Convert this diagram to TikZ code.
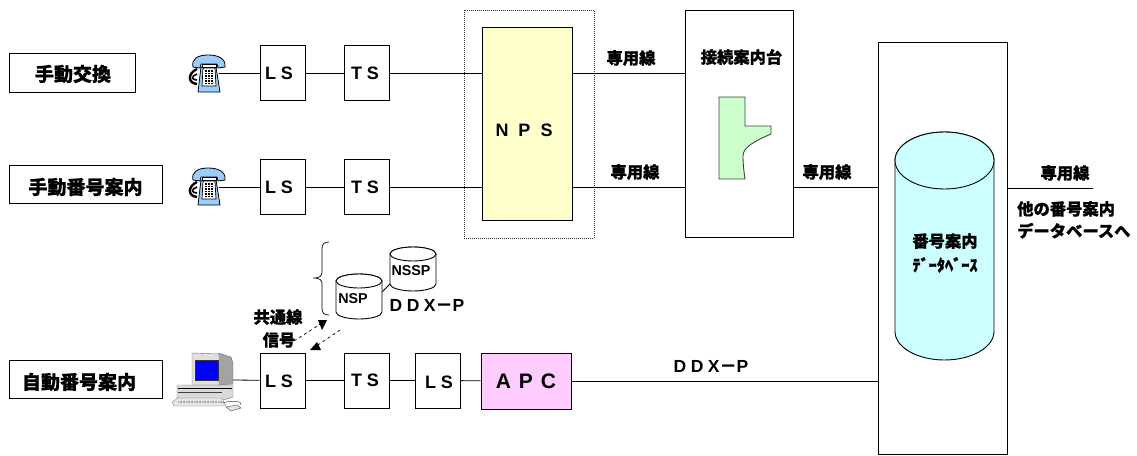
\documentclass[tikz,border=0pt]{standalone}
\usepackage{fontspec}
\setmainfont{Liberation Sans}
\newfontfamily\cjk{Noto Sans CJK JP}[BoldFeatures={FakeBold=0.8}]
\newcommand{\cylshape}[6]{% x y w h ry fill
  \path[draw=black,line width=0.9pt,fill=#6]
    (#1,#2+#5) -- (#1,#2+#4-#5) arc[start angle=180,end angle=0,x radius=#3/2,y radius=#5]
    -- (#1+#3,#2+#5) arc[start angle=0,end angle=-180,x radius=#3/2,y radius=#5] -- cycle;
  \path[draw=black,line width=0.9pt,fill=#6]
    (#1+#3/2,#2+#5) ellipse[x radius=#3/2,y radius=#5];
}
\newcommand{\fwminus}{{\cjk\bfseries\fontsize{17}{18}\selectfont －}}
\tikzset{
  ln/.style={draw=black,line width=0.8pt},
  labelbox/.style={draw=black,line width=0.9pt,fill=white,inner sep=0pt},
  labeltext/.style={font=\cjk\bfseries\fontsize{19}{21}\selectfont,inner sep=0pt},
  swbox/.style={draw=black,line width=0.9pt,fill=white,minimum width=45pt,minimum height=55pt,inner sep=0pt},
  swtext/.style={inner sep=0pt,font=\bfseries\fontsize{18}{20}\selectfont},
  cj/.style={font=\cjk\bfseries\fontsize{16.3}{24}\selectfont,inner sep=0pt,align=left},
  lat/.style={font=\bfseries\fontsize{17.5}{20}\selectfont,inner sep=0pt},
  small/.style={font=\bfseries\fontsize{14.3}{16}\selectfont,inner sep=0pt},
  anchorpt/.style={inner sep=0pt,minimum size=0pt},
  phoneicon/.pic={
    \path[draw=black,line width=2.4pt] (9,14) .. controls (0,18) and (-1,28) .. (9,29);
    \path[draw=black,line width=1.6pt] (9,19) .. controls (3,21) and (3,25) .. (9,25);
    \path[draw=black,line width=0.8pt,fill=phoneblue] (13,12) -- (28,12) -- (32,37) -- (10,37) -- cycle;
    \path[draw=black,line width=0.8pt,fill=phoneblue] (5,12) .. controls (3,4) and (10,0) .. (20,0) .. controls (31,0) and (38,4) .. (37,12) -- (30,13) -- (29,9) -- (13,9) -- (12,13) -- cycle;
    \path[draw=black,line width=0.7pt,fill=white] (14,9) -- (28,9) -- (28,12) -- (14,12) -- cycle;
    \path[draw=black,line width=0.7pt,fill=white] (15,13) -- (27,13) -- (28,31) -- (14,31) -- cycle;
    \path[draw=black,line width=2.4pt,dash pattern=on 1.8pt off 0.7pt] (18,15) -- (18,28);
    \path[draw=black,line width=2.4pt,dash pattern=on 1.8pt off 0.7pt] (21,15) -- (21,28);
    \path[draw=black,line width=2.4pt,dash pattern=on 1.8pt off 0.7pt] (24,15) -- (24,28);
  }
}
\definecolor{phoneblue}{HTML}{99CCFF}
\definecolor{npsyellow}{HTML}{FFFFCC}
\definecolor{apcpink}{HTML}{FFCCFF}
\definecolor{mintgreen}{HTML}{CCFFCC}
\definecolor{dbcyan}{HTML}{CCFFFF}
\definecolor{pcgrey}{HTML}{DADADA}
\begin{document}
\begin{tikzpicture}[x=1pt,y=-1pt]
\useasboundingbox (0,0) rectangle (1137,455);

% label boxes
\node[labelbox,minimum width=126pt,minimum height=39pt] (lab1) at (72,72.5) {};
\node[labelbox,minimum width=153pt,minimum height=38pt] (lab2) at (85.5,184) {};
\node[labelbox,minimum width=153pt,minimum height=38pt] (lab3) at (85.5,379) {};
\node[labeltext] (lab1t) at (73,74) {手動交換};
\node[labeltext] (lab2t) at (85.5,187) {手動番号案内};
\node[labeltext] (lab3t) at (79,382) {自動番号案内};

% enclosures
\node[draw=black!80,line width=0.5pt,dash pattern=on 1pt off 1pt,minimum width=130pt,minimum height=228pt,inner sep=0pt] (npsframe) at (529,124) {};
\node[draw=black,line width=0.9pt,fill=white,minimum width=108pt,minimum height=227pt,inner sep=0pt] (guide) at (739,123.5) {};
\node[draw=black,line width=0.9pt,fill=white,minimum width=129pt,minimum height=412pt,inner sep=0pt] (dbbox) at (942.5,248) {};

% switches
\node[swbox] (ls1) at (282.5,73) {};
\node[swbox] (ts1) at (367,73) {};
\node[swbox] (ls2) at (282.5,187) {};
\node[swbox] (ts2) at (367,187) {};
\node[swbox] (ls3) at (282.5,380.5) {};
\node[swbox] (ts3) at (366.5,380.5) {};
\node[swbox] (ls4) at (437.5,380.5) {};
\node[swtext] (ls1t) at (279,73) {L\hspace{5pt}S};
\node[swtext] (ts1t) at (365,73) {T\hspace{5pt}S};
\node[swtext] (ls2t) at (279,187) {L\hspace{5pt}S};
\node[swtext] (ts2t) at (365,187) {T\hspace{5pt}S};
\node[swtext] (ls3t) at (279,381) {L\hspace{5pt}S};
\node[swtext] (ts3t) at (365,380) {T\hspace{5pt}S};
\node[swtext] (ls4t) at (439,382) {L\hspace{5pt}S};
\node[draw=black,line width=0.9pt,fill=npsyellow,minimum width=90pt,minimum height=193pt,inner sep=0pt] (nps) at (527,123.5) {};
\node[swtext] (npst) at (524,130) {N\hspace{10pt}P\hspace{10pt}S};
\node[draw=black,line width=0.9pt,fill=apcpink,minimum width=90pt,minimum height=56pt,inner sep=0pt,font=\bfseries\fontsize{21}{22}\selectfont] (apc) at (526,381) {A\hspace{8pt}P\hspace{8pt}C};

% phones
\path (188,55) pic {phoneicon};
\path (188,168) pic {phoneicon};
\node[anchorpt] (ph1) at (219,73) {};
\node[anchorpt] (ph2) at (219,187) {};
\node[anchorpt] (pc) at (233,380) {};

% computer
\path[draw=black!55,line width=0.4pt,fill=pcgrey] (177,385) -- (233,385) -- (233,397) -- (223,400) -- (177,398) -- cycle;
\path[draw=black,line width=1.1pt] (178,388.5) -- (232,388.5);
\path[draw=black!75,line width=0.8pt] (178,392) -- (222,392);
\path[draw=black!55,line width=0.4pt,fill=pcgrey!70!black!90] (218,353) -- (231,357) -- (233,363) -- (233,384) -- (218,385) -- cycle;
\path[draw=black!55,line width=0.4pt,fill=white!88!black] (192,353) -- (219,354) -- (219,385) -- (192,385) -- cycle;
\path[draw=black!80,line width=0.8pt,fill=blue] (195,360) rectangle (218,380);
\path[draw=black!50,line width=0.4pt,fill=white!90!black] (178,398) -- (222,398) -- (226,406) -- (174,406) -- (172,402) -- cycle;
\path[draw=black!35,line width=1.8pt,dash pattern=on 1pt off 0.6pt] (178,402) -- (222,402);
\path[draw=black!70,line width=0.5pt] (222,403) .. controls (232,400) and (243,401) .. (241,405);
\path[draw=black!60,line width=0.5pt,fill=white!90!black] (226,407) -- (237,405) -- (241,408) -- (231,411) -- cycle;

% connectors
\draw[ln] (ph1) -- (ls1);
\draw[ln] (ls1) -- (ts1);
\draw[ln] (ts1.east) -- (ts1.east -| nps.west);
\draw[ln] (ph2) -- (ls2);
\draw[ln] (ls2) -- (ts2);
\draw[ln] (ts2.east) -- (ts2.east -| nps.west);
\draw[ln] (ts1.east -| nps.east) -- (ts1.east -| guide.west);
\draw[ln] (ts2.east -| nps.east) -- (ts2.east -| guide.west);
\draw[ln] (ts2.east -| guide.east) -- (ts2.east -| dbbox.west);
\coordinate (ext) at (1093,188);
\draw[ln] (ext -| dbbox.east) -- (ext);
\draw[ln] (pc) -- (ls3);
\draw[ln] (ls3) -- (ts3);
\draw[ln] (ts3) -- (ls4);
\draw[ln] (ls4) -- (apc);
\draw[ln] (apc.east) -- (apc.east -| dbbox.west);

% cylinder database
\cylshape{895}{132}{99}{228}{28.5}{dbcyan}
\node[cj,align=center] (dbtext) at (945,253) {番号案内\\ﾃﾞｰﾀﾍﾞｰｽ};

% operator console
\path[draw=black!75,line width=0.9pt,fill=mintgreen] (719,97) -- (745,97) -- (745,126) -- (771,126) -- (771,134)
  .. controls (755,141) and (743,147) .. (743,156) .. controls (743,165) and (744,172) .. (745,179) -- (719,179) -- cycle;

% signalling cylinders
\coordinate (linkA) at (382,292);
\coordinate (linkB) at (390,284);
\draw[ln] (linkA) -- (linkB);
\cylshape{336}{274}{46}{45}{7}{white}
\cylshape{390}{247}{46}{44}{7}{white}
\node[small] (nsp) at (353,299) {NSP};
\node[small] (nssp) at (411,271) {NSSP};
\node[lat] (ddx1) at (427,305) {D\hspace{4.5pt}D\hspace{4.5pt}X\fwminus P};

% brace
\draw[line width=0.7pt] (329,242) .. controls (324,242) and (322,244) .. (322,249) -- (322,272)
  .. controls (322,276) and (320,278) .. (313,278) .. controls (320,278) and (322,280) .. (322,284)
  -- (322,308) .. controls (322,313) and (324,315) .. (329,315);

% common channel signalling
\node[cj] (sig1) at (278,317) {共通線};
\node[cj] (sig2) at (279,340) {信号};
\coordinate (a1s) at (294,341);
\coordinate (a1e) at (322,323);
\coordinate (a2s) at (340,330);
\coordinate (a2e) at (315,347);
\draw[line width=0.7pt,dashed] (a1s) -- (a1e);
\draw[line width=0.7pt,dashed] (a2s) -- (a2e);
\fill (318,320) -- (327,320) -- (322,330) -- cycle;
\fill (310,350) -- (321,350) -- (317,342) -- cycle;

% line labels
\node[cj] (sen1) at (631,58) {専用線};
\node[cj] (sen2) at (635,172) {専用線};
\node[cj] (guidet) at (741.5,57) {接続案内台};
\node[cj] (sen3) at (827,172) {専用線};
\node[cj] (sen4) at (1065,173) {専用線};
\node[cj,anchor=north west,font=\cjk\bfseries\fontsize{16.3}{22}\selectfont] (other) at (1017,201) {他の番号案内\\データベースへ};
\node[lat] (ddx2) at (711,366) {D\hspace{4.5pt}D\hspace{4.5pt}X\fwminus P};
\end{tikzpicture}
\end{document}
